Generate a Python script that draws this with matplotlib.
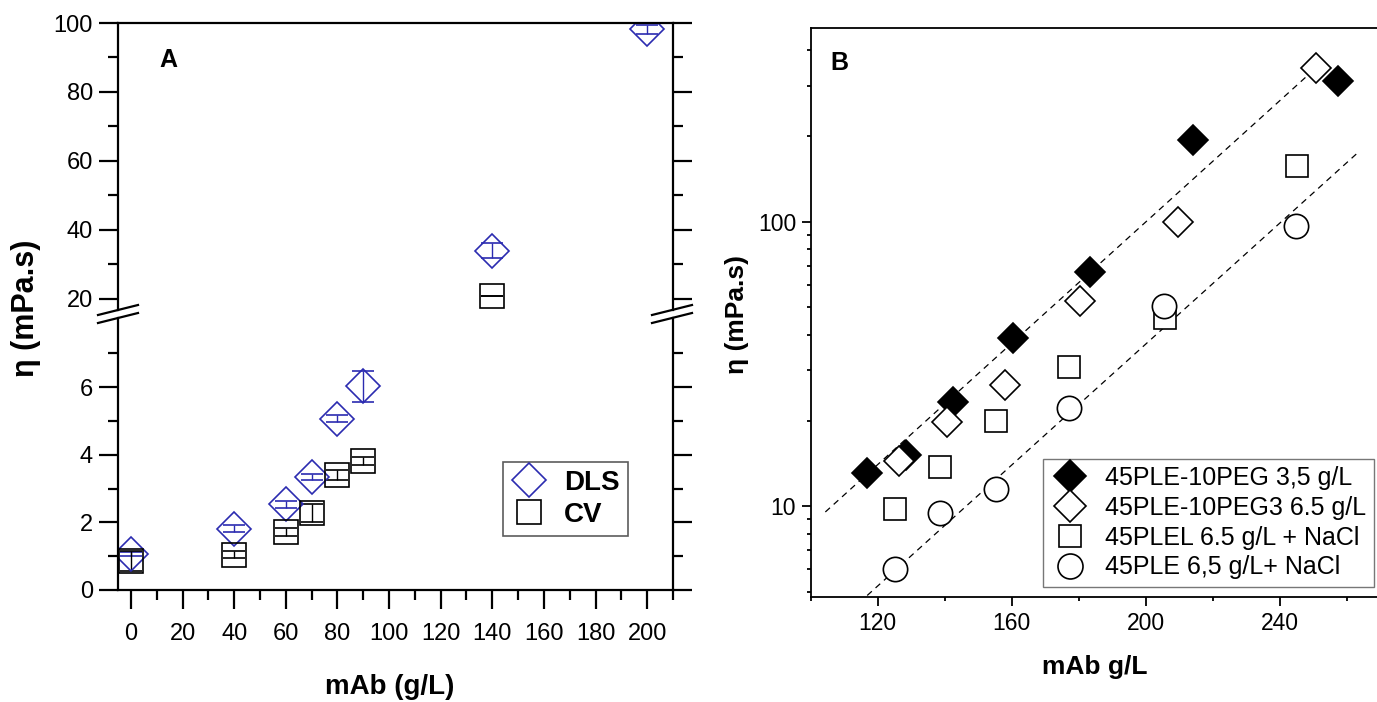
import numpy as np
import matplotlib.pyplot as plt
from matplotlib.lines import Line2D
from matplotlib.ticker import MultipleLocator, FixedLocator, NullFormatter, FuncFormatter, LogLocator

plt.rcParams['font.family'] = ['Liberation Sans', 'DejaVu Sans']

# Panel A: viscosity vs mAb, DLS and capillary viscometer
mab_dls = [0, 40, 60, 70, 80, 90, 140, 200]
eta_dls = [1.07, 1.82, 2.54, 3.35, 5.07, 6.03, 34.0, 98.2]
err_dls = [0.05, 0.1, 0.1, 0.08, 0.11, 0.46, 2.2, 1.3]
mab_cv = [0, 40, 60, 70, 80, 90, 140]
eta_cv = [0.86, 1.04, 1.71, 2.27, 3.4, 3.83, 20.9]
err_cv = [0.3, 0.1, 0.12, 0.27, 0.15, 0.12, 0.0]

# Panel B: log viscosity for the four formulations
mab_peg35 = [116.7, 128.6, 142.4, 160.5, 183.4, 214.3, 257.6]
eta_peg35 = [13.1, 15.1, 23.3, 38.9, 66.7, 193.8, 312]
mab_peg65 = [126.4, 140.7, 157.9, 180.4, 209.8, 250.9]
eta_peg65 = [14.4, 19.8, 26.6, 52.6, 100, 346]
mab_plel = [125.1, 138.7, 155.5, 177.2, 205.7, 245.1]
eta_plel = [9.76, 13.7, 19.95, 30.9, 45.7, 157]
mab_ple = [125.3, 138.7, 155.5, 177.2, 205.5, 245.0]
eta_ple = [6.0, 9.5, 11.5, 22.2, 50.5, 96.8]
fit1_x = [104.4, 250.3]
fit1_y = [9.55, 342]
fit2_x = [116.9, 263.2]
fit2_y = [4.86, 174]

labels_b = ["45PLE-10PEG 3,5 g/L", "45PLE-10PEG3 6.5 g/L",
            "45PLEL 6.5 g/L + NaCl", "45PLE 6,5 g/L+ NaCl"]

blue = '#2b2bb0'
W, H = 1377, 702
fig = plt.figure(figsize=(W / 100, H / 100), dpi=100)


def fx(px):
    return px / W


def fy(py):
    return 1 - py / H


ax_top = fig.add_axes([fx(118), fy(310), fx(673) - fx(118), fy(23) - fy(310)])
ax_bot = fig.add_axes([fx(118), fy(590), fx(673) - fx(118), fy(318) - fy(590)])

for ax in (ax_top, ax_bot):
    ax.errorbar(mab_dls, eta_dls, yerr=err_dls, fmt='D', ms=17, mfc='none',
                mec=blue, mew=1.2, ecolor=blue, elinewidth=1, capsize=8, capthick=1)
    ax.errorbar(mab_cv, eta_cv, yerr=err_cv, fmt='s', ms=17, mfc='none',
                mec='black', mew=1.2, ecolor='black', elinewidth=1, capsize=8, capthick=1)
    ax.set_xlim(-5, 210)
    for s in ax.spines.values():
        s.set_linewidth(1.6)
    ax.tick_params(which='major', direction='out', length=14, width=1.6,
                   labelsize=17, right=True, pad=4)
    ax.tick_params(which='minor', direction='out', length=7.5, width=1.6, right=True)
    ax.tick_params(axis='x', pad=10)

ax_top.set_ylim(16.8, 100)
ax_top.yaxis.set_major_locator(FixedLocator([20, 40, 60, 80, 100]))
ax_top.yaxis.set_minor_locator(FixedLocator([30, 50, 70, 90]))
ax_top.spines['bottom'].set_visible(False)
ax_top.tick_params(axis='x', which='both', bottom=False, labelbottom=False)

ax_bot.set_ylim(0, 8.05)
ax_bot.yaxis.set_major_locator(FixedLocator([0, 2, 4, 6]))
ax_bot.yaxis.set_minor_locator(FixedLocator([1, 3, 5, 7]))
ax_bot.spines['top'].set_visible(False)
ax_bot.xaxis.set_major_locator(MultipleLocator(20))
ax_bot.xaxis.set_minor_locator(MultipleLocator(10))

# break marks
for xc in (118, 672):
    for yc in (310, 318):
        fig.add_artist(Line2D([fx(xc - 20), fx(xc + 20)], [fy(yc + 5), fy(yc - 5)],
                              color='black', lw=1.6))

fig.text(fx(168), fy(60), "A", fontsize=18, fontweight='bold', ha='center', va='center')

h_dls = Line2D([], [], ls='none', marker='D', ms=17, mfc='none', mec=blue, mew=1.2)
h_cv = Line2D([], [], ls='none', marker='s', ms=17, mfc='none', mec='black', mew=1.2)
leg_a = ax_bot.legend([h_dls, h_cv], ["DLS", "CV"], loc='lower right',
                      bbox_to_anchor=(0.919, 0.199), borderaxespad=0,
                      prop={'size': 20, 'weight': 'bold'}, frameon=True, fancybox=False,
                      handlelength=1.3, handletextpad=0.6, labelspacing=0.2,
                      borderpad=0.3)
leg_a.get_frame().set_edgecolor('#333333')
leg_a.get_frame().set_linewidth(1.2)

fig.text(fx(390), fy(687), "mAb (g/L)", fontsize=20, fontweight='bold',
         ha='center', va='center')
fig.text(fx(26), fy(308), "η (mPa.s)", fontsize=22, fontweight='bold',
         ha='center', va='center', rotation=90)

# Panel B
axb = fig.add_axes([fx(810.6), fy(597), fx(1380) - fx(810.6), fy(28.3) - fy(597)])
axb.plot(fit1_x, fit1_y, color='black', ls=(0, (5, 4)), lw=0.9)
axb.plot(fit2_x, fit2_y, color='black', ls=(0, (5, 4)), lw=0.9)
axb.plot(mab_peg35, eta_peg35, ls='none', marker='D', ms=15, mfc='black', mec='black', mew=1.2)
axb.plot(mab_peg65, eta_peg65, ls='none', marker='D', ms=15, mfc='white', mec='black', mew=1.2)
axb.plot(mab_plel, eta_plel, ls='none', marker='s', ms=15.5, mfc='white', mec='black', mew=1.2)
axb.plot(mab_ple, eta_ple, ls='none', marker='o', ms=17.5, mfc='white', mec='black', mew=1.2)
axb.set_yscale('log')
axb.set_xlim(100, 270)
axb.set_ylim(4.8, 478)
axb.xaxis.set_major_locator(FixedLocator([120, 160, 200, 240]))
axb.xaxis.set_minor_locator(FixedLocator([100, 140, 180, 220, 260]))
axb.yaxis.set_major_locator(LogLocator(base=10))
axb.yaxis.set_minor_locator(LogLocator(base=10, subs=np.arange(2, 10)))
axb.yaxis.set_major_formatter(FuncFormatter(lambda v, p: f"{v:g}"))
axb.yaxis.set_minor_formatter(NullFormatter())
for s in axb.spines.values():
    s.set_linewidth(1.3)
axb.tick_params(which='major', direction='out', length=6.5, width=1.3, labelsize=16.5, pad=4)
axb.tick_params(which='minor', direction='out', length=3.2, width=1.3)

fig.text(fx(839), fy(63), "B", fontsize=18, fontweight='bold', ha='center', va='center')

hb = [Line2D([], [], ls='none', marker='D', ms=16, mfc='black', mec='black', mew=1.2),
      Line2D([], [], ls='none', marker='D', ms=16, mfc='white', mec='black', mew=1.2),
      Line2D([], [], ls='none', marker='s', ms=16, mfc='white', mec='black', mew=1.2),
      Line2D([], [], ls='none', marker='o', ms=18, mfc='white', mec='black', mew=1.2)]
leg_b = axb.legend(hb, labels_b, loc='lower right', bbox_to_anchor=(0.9895, 0.0176),
                   borderaxespad=0, fontsize=18, frameon=True, fancybox=False,
                   handlelength=1.6, handletextpad=0.6, labelspacing=0.23, borderpad=0.3)
leg_b.get_frame().set_edgecolor('#555555')
leg_b.get_frame().set_linewidth(1.0)

fig.text(fx(1095), fy(667), "mAb g/L", fontsize=19, fontweight='bold',
         ha='center', va='center')
fig.text(fx(737), fy(315), "η (mPa.s)", fontsize=19, fontweight='bold',
         ha='center', va='center', rotation=90)

fig.savefig("out.png", dpi=100)
